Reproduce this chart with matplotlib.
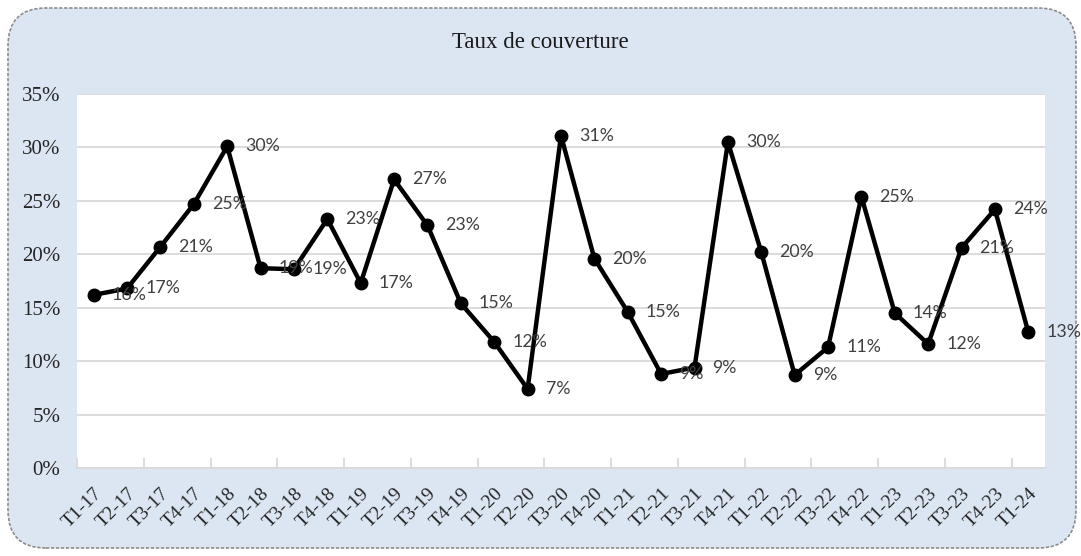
import matplotlib.pyplot as plt
from matplotlib.patches import FancyBboxPatch
from matplotlib.ticker import FixedLocator, FuncFormatter

# -----------------------------------------------
# Data
# -----------------------------------------------
quarters = ["T1-17", "T2-17", "T3-17", "T4-17",
            "T1-18", "T2-18", "T3-18", "T4-18",
            "T1-19", "T2-19", "T3-19", "T4-19",
            "T1-20", "T2-20", "T3-20", "T4-20",
            "T1-21", "T2-21", "T3-21", "T4-21",
            "T1-22", "T2-22", "T3-22", "T4-22",
            "T1-23", "T2-23", "T3-23", "T4-23",
            "T1-24"]
taux = [0.162, 0.168, 0.207, 0.247,
        0.301, 0.187, 0.186, 0.233,
        0.173, 0.270, 0.227, 0.154,
        0.118, 0.074, 0.311, 0.196,
        0.146, 0.088, 0.094, 0.305,
        0.202, 0.087, 0.113, 0.254,
        0.145, 0.116, 0.206, 0.242,
        0.127]
y_ticks = [0, 0.05, 0.10, 0.15, 0.20, 0.25, 0.30, 0.35]

# -----------------------------------------------
# Figure
# -----------------------------------------------
bg = "#DCE6F2"
fig = plt.figure(figsize=(10.81, 5.56), dpi=100)
fig.patch.set_facecolor("white")

frame = FancyBboxPatch((8 / 1081, 8 / 556), 1068 / 1081, 540 / 556,
                       boxstyle="round,pad=0,rounding_size=0.035",
                       transform=fig.transFigure, facecolor=bg,
                       edgecolor="#8c8c8c", linewidth=1.2, linestyle=(0, (2, 1)),
                       mutation_aspect=1081 / 556, zorder=-10)
fig.patches.append(frame)

ax = fig.add_axes([77 / 1081, 1 - 468 / 556, 968 / 1081, 374 / 556])
ax.set_facecolor("white")

x = list(range(len(quarters)))
ax.plot(x, taux, color="black", linewidth=3.2, marker="o", markersize=9,
        solid_joinstyle="round", zorder=3)

# data labels to the right of each point
for xi, v in zip(x, taux):
    ax.annotate(f"{v * 100:.0f}%", (xi, v), xytext=(13, 0),
                textcoords="offset points", va="center", ha="left",
                fontsize=12.8, color="#404040", family="Lato", zorder=4,
                annotation_clip=False)

ax.set_xlim(-0.5, len(quarters) - 0.5)
ax.set_ylim(0, 0.35)

# y axis
ax.yaxis.set_major_locator(FixedLocator(y_ticks))
ax.yaxis.set_major_formatter(FuncFormatter(lambda v, p: f"{v * 100:.0f}%"))
ax.yaxis.grid(True, color="#d9d9d9", linewidth=1.3)
ax.set_axisbelow(True)
ax.tick_params(axis="y", length=0, pad=12, labelsize=15)

# x axis: labels at categories, tick marks every 2 categories
ax.set_xticks(x)
ax.set_xticklabels(quarters, rotation=45, ha="right", rotation_mode="anchor",
                   fontsize=14)
ax.tick_params(axis="x", length=0, pad=12)
ax.set_xticks([i - 0.5 for i in range(0, len(quarters) + 1, 2)], minor=True)
ax.tick_params(axis="x", which="minor", direction="in", length=7,
               color="#d9d9d9", width=1.3)

for lab in ax.get_xticklabels() + ax.get_yticklabels():
    lab.set_family("Liberation Serif")
    lab.set_color("#262626")

for s in ["left", "right", "top"]:
    ax.spines[s].set_visible(False)
ax.spines["bottom"].set_color("#d9d9d9")
ax.spines["bottom"].set_linewidth(1.3)

fig.text(0.5, 1 - 42 / 556, "Taux de couverture", ha="center", va="center",
         fontsize=16.5, family="Liberation Serif", color="#1a1a1a")

plt.savefig("out.png", dpi=100, facecolor=fig.get_facecolor())
